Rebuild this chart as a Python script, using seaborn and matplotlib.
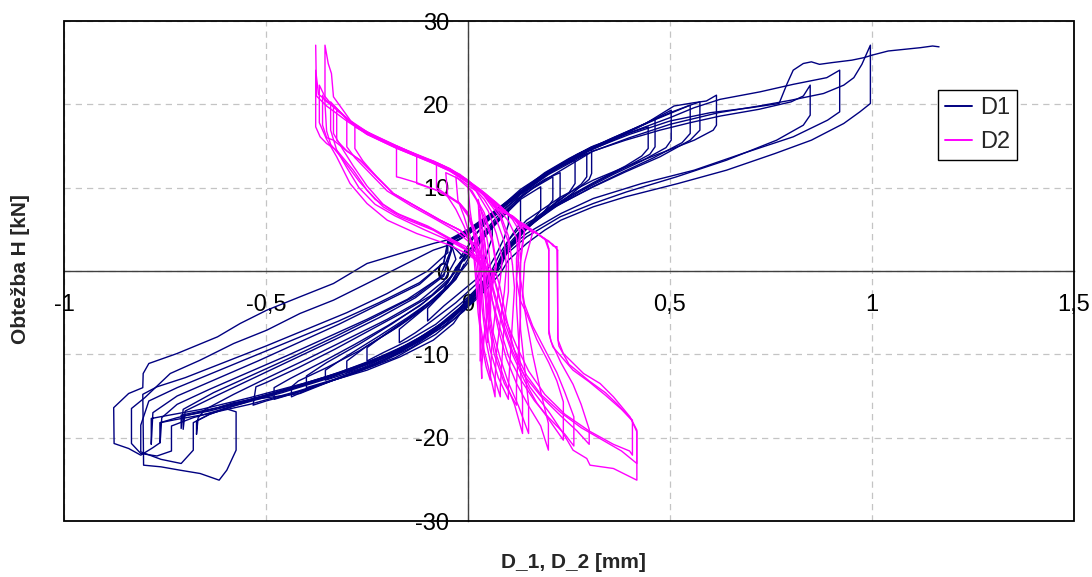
import matplotlib
matplotlib.use("Agg")
import matplotlib.pyplot as plt
import seaborn as sns
import pandas as pd
from matplotlib.lines import Line2D
from matplotlib.patches import Rectangle
from matplotlib.ticker import FixedLocator, FixedFormatter

# ---------------- data: D1 cycles (x = displacement mm, y = load kN) ----------------
d1_c01 = [(-0.02,1.5),(0.01,2.8),(0.04,4.2),(0.06,5.2),(0.06,4.0),(0.05,2.6),(0.04,1.0),(0.02,-1.0),(-0.02,-2.6),(-0.06,-4.2),(-0.10,-6.0),(-0.10,-4.5),(-0.07,-3.0),(-0.04,-1.2),(-0.02,0.5)]
d1_c02 = [(-0.02,0.8),(0.02,3.0),(0.06,5.4),(0.10,7.4),(0.10,5.6),(0.09,4.0),(0.07,2.0),(0.05,0.3),(0.02,-1.6),(-0.03,-3.8),(-0.09,-6.0),(-0.13,-7.4),(-0.17,-8.6),(-0.17,-7.0),(-0.12,-5.0),(-0.07,-3.0),(-0.03,-1.0),(-0.01,0.8)]
d1_c03 = [(-0.01,1.2),(0.03,3.6),(0.08,6.2),(0.13,8.6),(0.13,5.8),(0.11,4.4),(0.08,2.2),(0.06,0.2),(0.03,-1.8),(-0.02,-4.0),(-0.08,-6.4),(-0.15,-8.4),(-0.21,-9.8),(-0.25,-10.8),(-0.25,-9.2),(-0.20,-7.4),(-0.14,-5.4),(-0.08,-3.2),(-0.03,-0.8),(0.0,1.0)]
d1_c04 = [(0.0,1.5),(0.04,4.0),(0.087,6.8),(0.13,8.6),(0.18,10.1),(0.18,7.3),(0.16,6.0),(0.13,4.2),(0.10,2.5),(0.07,0.4),(0.04,-1.5),(0.0,-3.6),(-0.05,-5.8),(-0.12,-8.0),(-0.20,-10.2),(-0.26,-11.4),(-0.30,-12.2),(-0.30,-10.8),(-0.25,-9.0),(-0.17,-6.6),(-0.10,-4.2),(-0.05,-2.0),(-0.02,0.2)]
d1_c05 = [(-0.02,1.0),(0.02,3.4),(0.06,5.6),(0.11,8.0),(0.16,9.9),(0.21,11.3),(0.21,8.5),(0.19,7.2),(0.15,5.4),(0.11,3.4),(0.08,1.2),(0.05,-0.8),(0.01,-3.0),(-0.04,-5.4),(-0.10,-7.6),(-0.18,-9.8),(-0.26,-11.6),(-0.32,-12.6),(-0.353,-13.1),(-0.353,-11.9),(-0.30,-10.2),(-0.22,-7.8),(-0.15,-5.6),(-0.08,-3.2),(-0.03,-0.9),(0.0,1.4)]
d1_c06 = [(0.0,1.4),(0.04,4.2),(0.09,7.0),(0.145,9.6),(0.19,11.0),(0.228,11.8),(0.228,8.9),(0.21,7.8),(0.17,6.1),(0.12,3.9),(0.09,1.8),(0.06,-0.4),(0.02,-2.6),(-0.03,-5.0),(-0.09,-7.4),(-0.17,-9.8),(-0.25,-11.5),(-0.33,-13.0),(-0.40,-14.0),(-0.40,-12.6),(-0.35,-11.0),(-0.27,-8.8),(-0.19,-6.4),(-0.11,-3.8),(-0.05,-1.4),(-0.02,1.0)]
d1_c07 = [(-0.02,1.6),(0.02,4.4),(0.07,7.2),(0.13,9.8),(0.20,12.0),(0.265,13.3),(0.265,10.5),(0.25,9.4),(0.20,7.6),(0.15,5.6),(0.11,3.4),(0.08,1.0),(0.04,-1.4),(-0.01,-4.0),(-0.07,-6.6),(-0.15,-9.2),(-0.24,-11.4),(-0.33,-13.0),(-0.40,-14.3),(-0.437,-15.1),(-0.437,-13.9),(-0.42,-13.2),(-0.35,-11.6),(-0.27,-9.6),(-0.19,-7.2),(-0.12,-4.8),(-0.06,-2.2),(-0.03,0.4)]
d1_c08 = [(-0.03,0.4),(-0.02,1.0),(0.02,3.6),(0.07,6.4),(0.13,9.2),(0.19,11.4),(0.25,13.1),(0.294,14.1),(0.294,11.3),(0.28,10.4),(0.23,8.6),(0.18,6.8),(0.13,4.8),(0.10,2.8),(0.07,0.2),(0.04,-1.8),(0.0,-4.0),(-0.06,-6.6),(-0.14,-9.2),(-0.23,-11.3),(-0.32,-12.9),(-0.41,-14.4),(-0.48,-15.4),(-0.48,-14.0),(-0.44,-12.9),(-0.36,-10.9),(-0.28,-8.8),(-0.20,-6.6),(-0.12,-4.2),(-0.06,-1.8),(-0.02,0.6)]
d1_c09 = [(-0.02,0.6),(0.01,4.0),(0.06,6.6),(0.12,9.2),(0.19,11.8),(0.25,13.5),(0.306,14.9),(0.306,11.7),(0.30,11.0),(0.26,9.4),(0.20,7.2),(0.15,5.3),(0.10,3.0),(0.07,0.4),(0.03,-2.0),(-0.02,-4.6),(-0.09,-7.4),(-0.17,-9.8),(-0.26,-11.8),(-0.35,-13.4),(-0.44,-14.8),(-0.50,-15.6),(-0.532,-16.1),(-0.525,-13.9),(-0.50,-13.4),(-0.42,-11.6),(-0.33,-9.4),(-0.25,-7.3),(-0.17,-5.2),(-0.09,-2.9),(-0.04,-0.6),(-0.01,1.6)]
d1_c10 = [(-0.01,1.6),(-0.05,3.6),(0.0,4.8),(0.04,6.0),(0.087,7.7),(0.145,10.0),(0.186,11.4),(0.25,13.4),(0.31,15.0),(0.39,16.4),(0.446,17.3),(0.446,14.7),(0.43,13.8),(0.39,12.6),(0.31,10.6),(0.23,8.4),(0.17,6.4),(0.12,4.0),(0.09,1.8),(0.07,0.0),(0.03,-2.4),(-0.03,-5.2),(-0.10,-7.8),(-0.20,-10.2),(-0.30,-12.0),(-0.40,-13.6),(-0.50,-15.0),(-0.58,-16.2),(-0.64,-17.2),(-0.672,-18.0),(-0.672,-19.6),(-0.668,-17.6),(-0.65,-16.6),(-0.58,-14.8),(-0.50,-12.9),(-0.40,-10.6),(-0.30,-8.2),(-0.20,-5.8),(-0.12,-3.6),(-0.06,-1.2),(-0.03,1.4),(-0.04,3.0)]
d1_c11 = [(-0.04,3.0),(-0.04,3.2),(0.0,4.4),(0.05,6.2),(0.10,8.2),(0.16,10.4),(0.22,12.4),(0.28,14.2),(0.35,15.6),(0.42,17.2),(0.463,18.3),(0.463,14.9),(0.45,14.0),(0.40,12.7),(0.33,11.0),(0.26,9.2),(0.19,7.0),(0.13,4.6),(0.09,2.2),(0.07,0.2),(0.02,-2.8),(-0.04,-5.6),(-0.12,-8.4),(-0.22,-10.6),(-0.33,-12.5),(-0.44,-14.2),(-0.55,-15.7),(-0.64,-16.8),(-0.705,-17.4),(-0.705,-19.0),(-0.70,-16.8),(-0.62,-14.9),(-0.52,-12.6),(-0.42,-10.3),(-0.32,-8.0),(-0.22,-5.6),(-0.13,-3.2),(-0.06,-0.6),(-0.04,2.6)]
d1_c12 = [(-0.04,2.6),(-0.05,3.4),(0.0,4.6),(0.06,6.6),(0.12,9.0),(0.19,11.4),(0.26,13.6),(0.33,15.3),(0.40,16.8),(0.46,18.2),(0.503,19.3),(0.503,15.7),(0.49,14.8),(0.43,13.2),(0.36,11.6),(0.28,9.6),(0.21,7.6),(0.14,5.0),(0.10,2.6),(0.08,0.4),(0.04,-2.0),(-0.01,-4.8),(-0.08,-7.6),(-0.18,-10.4),(-0.30,-12.6),(-0.42,-14.4),(-0.54,-16.0),(-0.65,-17.2),(-0.72,-17.8),(-0.762,-18.2),(-0.762,-20.6),(-0.758,-17.6),(-0.72,-16.0),(-0.64,-14.2),(-0.55,-12.3),(-0.45,-10.2),(-0.35,-8.0),(-0.25,-5.8),(-0.15,-3.4),(-0.07,-0.8),(-0.04,2.8)]
d1_c13 = [(-0.04,2.8),(-0.04,3.6),(0.0,4.9),(0.05,6.6),(0.11,8.8),(0.18,11.2),(0.25,13.3),(0.32,15.0),(0.40,16.8),(0.47,18.3),(0.52,19.3),(0.55,19.9),(0.55,16.5),(0.53,15.4),(0.46,13.6),(0.38,11.8),(0.30,9.9),(0.22,7.8),(0.15,5.4),(0.10,2.8),(0.07,0.3),(0.03,-2.2),(-0.03,-5.0),(-0.10,-7.8),(-0.20,-10.0),(-0.32,-12.2),(-0.44,-14.0),(-0.56,-15.8),(-0.64,-17.2),(-0.68,-18.2),(-0.68,-21.5),(-0.71,-23.1),(-0.76,-22.6),(-0.81,-21.7),(-0.81,-18.5),(-0.79,-15.6),(-0.72,-14.0),(-0.62,-12.0),(-0.52,-10.0),(-0.42,-8.0),(-0.32,-6.0),(-0.22,-3.8),(-0.12,-1.4),(-0.06,1.0),(-0.05,3.2)]
d1_c14 = [(-0.05,3.2),(-0.05,3.7),(0.0,5.0),(0.06,7.0),(0.13,9.6),(0.20,12.0),(0.27,14.0),(0.35,15.8),(0.43,17.5),(0.50,19.0),(0.55,19.9),(0.574,20.3),(0.574,16.9),(0.55,15.7),(0.475,13.7),(0.39,11.9),(0.31,10.1),(0.23,8.1),(0.145,5.7),(0.095,2.9),(0.07,0.2),(0.02,-2.6),(-0.04,-5.4),(-0.12,-8.2),(-0.22,-10.6),(-0.34,-12.8),(-0.46,-14.6),(-0.58,-16.2),(-0.68,-17.6),(-0.734,-18.6),(-0.734,-21.6),(-0.77,-22.2),(-0.81,-21.9),(-0.833,-20.7),(-0.833,-16.5),(-0.80,-15.2),(-0.737,-12.3),(-0.663,-10.7),(-0.58,-8.7),(-0.498,-7.1),(-0.416,-5.1),(-0.333,-3.5),(-0.25,-1.5),(-0.168,0.5),(-0.086,2.5),(-0.036,3.3)]
d1_c15 = [(-0.036,3.3),(-0.05,3.6),(0.0,4.8),(0.07,7.2),(0.14,9.8),(0.21,12.2),(0.28,14.2),(0.36,16.0),(0.44,17.7),(0.47,18.6),(0.51,19.8),(0.56,20.2),(0.59,20.4),(0.615,21.1),(0.615,17.5),(0.607,16.9),(0.56,15.7),(0.475,14.1),(0.39,12.5),(0.31,10.9),(0.23,8.9),(0.145,6.1),(0.10,3.7),(0.07,0.5),(0.03,-1.6),(-0.02,-4.4),(-0.09,-7.2),(-0.19,-9.8),(-0.30,-12.0),(-0.42,-13.8),(-0.54,-15.4),(-0.65,-16.8),(-0.72,-17.6),(-0.762,-18.2),(-0.762,-20.6),(-0.78,-21.2),(-0.81,-22.1),(-0.84,-21.3),(-0.876,-20.7),(-0.877,-16.4),(-0.84,-14.7),(-0.805,-14.0),(-0.804,-12.3),(-0.79,-11.1),(-0.72,-9.9),(-0.62,-7.9),(-0.564,-6.3),(-0.498,-4.7),(-0.416,-3.1),(-0.333,-1.5),(-0.25,0.9),(-0.168,2.1),(-0.086,3.3),(-0.053,3.7)]
d1_c16 = [(-0.053,3.7),(-0.04,3.4),(0.0,4.4),(0.06,6.4),(0.12,8.6),(0.20,11.2),(0.31,14.4),(0.39,15.7),(0.475,16.9),(0.55,17.8),(0.625,18.6),(0.72,19.4),(0.80,20.3),(0.83,21.0),(0.847,22.3),(0.847,18.7),(0.83,17.5),(0.764,15.7),(0.64,13.3),(0.516,11.3),(0.393,9.5),(0.31,8.1),(0.228,6.5),(0.145,4.1),(0.087,1.7),(0.063,-0.3),(0.02,-2.8),(-0.05,-5.8),(-0.14,-8.6),(-0.25,-11.0),(-0.37,-13.0),(-0.49,-14.8),(-0.60,-16.2),(-0.67,-16.9),(-0.71,-17.3),(-0.71,-18.9),(-0.705,-16.6),(-0.63,-14.6),(-0.53,-12.4),(-0.43,-10.2),(-0.33,-7.9),(-0.23,-5.5),(-0.13,-3.0),(-0.06,-0.4),(-0.04,2.8)]
d1_c17 = [(-0.04,2.8),(-0.05,3.5),(0.0,4.6),(0.06,6.8),(0.13,9.4),(0.20,11.8),(0.30,14.4),(0.40,16.6),(0.50,18.4),(0.56,19.6),(0.624,20.6),(0.723,21.5),(0.805,22.4),(0.888,23.2),(0.92,24.1),(0.92,19.1),(0.89,18.1),(0.805,16.1),(0.68,14.1),(0.56,12.1),(0.43,10.5),(0.31,8.7),(0.23,6.9),(0.145,4.5),(0.087,2.1),(0.07,-0.3),(0.03,-2.8),(-0.012,-4.6),(-0.036,-6.3),(-0.086,-8.3),(-0.168,-10.3),(-0.25,-11.9),(-0.333,-13.1),(-0.416,-14.7),(-0.531,-15.4),(-0.58,-15.8),(-0.614,-16.3),(-0.574,-16.9),(-0.574,-21.5),(-0.597,-23.9),(-0.616,-25.1),(-0.663,-24.3),(-0.713,-23.9),(-0.76,-23.5),(-0.803,-23.3),(-0.804,-18.7),(-0.805,-14.8),(-0.77,-13.9),(-0.70,-12.8),(-0.60,-10.9),(-0.50,-9.0),(-0.40,-7.0),(-0.30,-5.0),(-0.20,-2.7),(-0.10,0.0),(-0.05,2.2)]
d1_c18 = [(-0.05,2.2),(-0.05,3.7),(0.0,4.7),(0.06,6.6),(0.13,9.2),(0.20,11.6),(0.30,14.2),(0.40,16.0),(0.50,17.6),(0.62,19.0),(0.72,19.8),(0.80,20.5),(0.88,21.3),(0.93,22.3),(0.955,23.2),(0.975,24.8),(0.996,27.1),(0.996,20.1),(0.97,19.1),(0.93,17.7),(0.85,15.7),(0.76,14.1),(0.64,12.1),(0.52,10.5),(0.39,8.9),(0.31,7.7),(0.23,6.1),(0.19,4.9),(0.145,3.3),(0.10,1.3),(0.08,-0.3),(0.03,-3.0),(-0.04,-6.0),(-0.14,-9.0),(-0.26,-11.4),(-0.40,-13.4),(-0.54,-15.2),(-0.66,-16.6),(-0.74,-17.3),(-0.784,-17.7),(-0.784,-20.8),(-0.78,-17.0),(-0.72,-15.0),(-0.62,-12.9),(-0.52,-10.8),(-0.42,-8.6),(-0.32,-6.4),(-0.22,-4.0),(-0.12,-1.6),(-0.06,1.0),(-0.05,3.6)]
d1_final = [(-0.05,3.6),(0.0,4.6),(0.06,6.7),(0.13,9.4),(0.20,11.8),(0.30,14.5),(0.40,16.4),(0.50,18.0),(0.60,19.0),(0.70,19.6),(0.77,20.1),(0.79,22.5),(0.805,24.1),(0.83,24.9),(0.85,25.1),(0.87,24.8),(0.90,25.0),(0.95,25.3),(0.98,25.6),(1.0,25.9),(1.04,26.4),(1.08,26.6),(1.12,26.8),(1.15,27.0),(1.166,26.9)]

# ---------------- data: D2 cycles ----------------
d2_c01 = [(0.05,0.0),(0.045,2.0),(0.04,4.0),(0.035,5.2),(0.036,4.0),(0.04,2.0),(0.045,0.0),(0.05,-2.0),(0.052,-4.0),(0.055,-6.0),(0.056,-4.5),(0.055,-2.0),(0.05,0.0)]
d2_c02 = [(0.05,0.5),(0.042,3.0),(0.035,5.4),(0.028,7.4),(0.03,5.6),(0.035,3.5),(0.04,1.0),(0.042,-2.0),(0.045,-5.0),(0.048,-8.6),(0.05,-7.0),(0.055,-4.0),(0.06,-1.0),(0.055,0.5)]
d2_c03 = [(0.055,0.5),(0.05,3.0),(0.04,5.8),(0.025,8.6),(0.028,5.8),(0.032,3.6),(0.035,1.0),(0.032,-2.0),(0.03,-6.0),(0.03,-10.8),(0.035,-9.2),(0.045,-6.0),(0.06,-2.0),(0.07,0.5)]
d2_c04 = [(0.07,0.5),(0.06,3.5),(0.04,6.5),(0.02,8.6),(0.0,10.1),(0.005,7.3),(0.012,5.0),(0.02,2.5),(0.025,0.0),(0.028,-3.0),(0.03,-7.0),(0.032,-10.5),(0.034,-12.9),(0.034,-11.5),(0.04,-8.0),(0.05,-4.0),(0.06,-1.0),(0.07,1.0)]
d2_c05 = [(0.07,1.0),(0.06,4.0),(0.04,7.0),(0.01,9.6),(-0.03,11.3),(-0.025,8.5),(-0.01,6.6),(0.005,4.2),(0.015,1.5),(0.02,-1.5),(0.025,-5.0),(0.035,-9.0),(0.045,-11.5),(0.055,-13.1),(0.056,-11.9),(0.06,-8.0),(0.07,-4.0),(0.08,-1.0),(0.085,1.5)]
d2_c06 = [(0.085,1.5),(0.07,4.5),(0.05,7.2),(0.02,9.6),(-0.02,11.0),(-0.055,11.8),(-0.05,8.9),(-0.03,7.4),(-0.01,5.4),(0.01,3.0),(0.02,0.5),(0.025,-2.5),(0.03,-6.0),(0.04,-9.5),(0.055,-12.5),(0.067,-15.1),(0.067,-13.1),(0.07,-10.0),(0.08,-6.0),(0.09,-2.5),(0.095,0.5)]
d2_c07 = [(0.095,0.5),(0.09,3.5),(0.07,6.2),(0.04,8.6),(0.0,10.7),(-0.04,12.1),(-0.078,13.0),(-0.078,10.0),(-0.045,8.9),(-0.02,8.1),(0.0,6.8),(0.015,4.5),(0.025,2.0),(0.03,-1.0),(0.035,-4.5),(0.045,-8.5),(0.06,-12.0),(0.08,-15.1),(0.08,-13.9),(0.085,-10.0),(0.09,-6.0),(0.10,-2.5),(0.10,0.5)]
d2_c08 = [(0.10,0.5),(0.10,3.4),(0.08,6.4),(0.04,9.0),(0.0,10.9),(-0.045,12.3),(-0.086,13.2),(-0.127,13.8),(-0.127,10.5),(-0.078,9.7),(-0.045,8.8),(-0.02,8.0),(0.0,6.6),(0.02,4.0),(0.03,1.0),(0.035,-2.0),(0.04,-5.5),(0.055,-9.5),(0.075,-12.8),(0.10,-15.4),(0.10,-14.0),(0.105,-10.0),(0.11,-6.0),(0.115,-2.0),(0.11,0.8)]
d2_c09 = [(0.11,0.8),(0.10,4.2),(0.08,6.8),(0.04,9.2),(0.0,10.8),(-0.045,12.2),(-0.086,13.2),(-0.127,14.0),(-0.177,15.0),(-0.177,11.3),(-0.168,11.2),(-0.127,10.6),(-0.078,9.7),(-0.045,8.9),(-0.02,8.1),(0.0,7.0),(0.02,4.6),(0.035,1.5),(0.04,-2.0),(0.05,-6.0),(0.065,-10.0),(0.09,-13.5),(0.12,-16.1),(0.12,-13.5),(0.125,-9.5),(0.13,-5.5),(0.13,-1.5),(0.125,1.0)]
d2_c10 = [(0.125,1.0),(0.12,4.0),(0.10,6.0),(0.06,8.4),(0.02,10.0),(-0.02,11.6),(-0.07,12.8),(-0.127,13.8),(-0.177,14.8),(-0.21,15.6),(-0.25,16.5),(-0.28,17.3),(-0.28,14.7),(-0.26,13.2),(-0.226,11.3),(-0.185,9.3),(-0.127,7.7),(-0.069,6.1),(-0.02,4.9),(0.02,3.0),(0.04,0.5),(0.045,-3.0),(0.055,-6.5),(0.07,-10.0),(0.09,-13.0),(0.115,-16.0),(0.135,-19.5),(0.135,-15.5),(0.13,-12.0),(0.125,-8.0),(0.12,-4.0),(0.12,-1.0),(0.125,1.5)]
d2_c11 = [(0.125,1.5),(0.13,4.6),(0.11,6.2),(0.07,8.2),(0.03,9.8),(-0.01,11.2),(-0.06,12.6),(-0.12,13.8),(-0.18,15.0),(-0.23,16.2),(-0.27,17.2),(-0.30,18.3),(-0.30,14.9),(-0.28,13.6),(-0.24,11.6),(-0.20,9.6),(-0.14,7.8),(-0.08,6.2),(-0.03,4.8),(0.01,3.2),(0.04,0.2),(0.05,-3.5),(0.06,-7.0),(0.08,-10.5),(0.10,-13.4),(0.125,-16.2),(0.15,-19.5),(0.15,-16.0),(0.14,-11.5),(0.13,-7.0),(0.128,-3.0),(0.13,1.0)]
d2_c12 = [(0.13,1.0),(0.14,4.8),(0.12,6.0),(0.08,7.8),(0.04,9.4),(0.0,10.8),(-0.045,12.2),(-0.09,13.2),(-0.14,14.2),(-0.19,15.3),(-0.24,16.4),(-0.28,17.6),(-0.325,19.3),(-0.325,15.7),(-0.30,14.4),(-0.267,13.3),(-0.226,11.3),(-0.185,9.3),(-0.127,7.7),(-0.069,6.1),(-0.02,4.9),(0.02,3.0),(0.05,0.0),(0.06,-3.5),(0.075,-7.0),(0.095,-10.5),(0.12,-13.5),(0.15,-16.2),(0.18,-18.6),(0.199,-21.5),(0.199,-18.3),(0.18,-14.5),(0.16,-10.0),(0.145,-6.0),(0.135,-3.0),(0.14,1.0)]
d2_c13 = [(0.14,1.0),(0.16,4.6),(0.14,5.4),(0.11,6.6),(0.071,7.6),(0.038,9.3),(0.0,10.7),(-0.045,12.1),(-0.086,13.1),(-0.127,13.9),(-0.177,14.9),(-0.21,15.7),(-0.25,16.5),(-0.29,17.8),(-0.333,19.9),(-0.333,16.5),(-0.31,14.6),(-0.284,12.6),(-0.25,10.2),(-0.21,8.0),(-0.168,6.7),(-0.086,5.0),(-0.028,3.4),(0.0,2.5),(0.05,0.0),(0.065,-3.0),(0.085,-6.5),(0.11,-10.0),(0.14,-13.2),(0.17,-15.8),(0.20,-17.8),(0.236,-20.3),(0.236,-15.7),(0.22,-13.2),(0.20,-11.0),(0.17,-8.2),(0.145,-5.1),(0.129,-3.5),(0.12,-1.0),(0.12,1.5)]
d2_c14 = [(0.12,1.5),(0.13,5.2),(0.112,6.4),(0.071,7.5),(0.038,9.2),(0.0,10.6),(-0.045,12.0),(-0.09,13.0),(-0.13,13.8),(-0.18,14.8),(-0.25,16.4),(-0.30,18.2),(-0.34,20.3),(-0.34,16.9),(-0.325,14.5),(-0.30,12.4),(-0.27,10.0),(-0.23,8.0),(-0.18,6.6),(-0.11,5.0),(-0.045,3.6),(0.0,2.4),(0.05,-0.5),(0.06,-3.5),(0.08,-7.0),(0.10,-10.2),(0.13,-13.0),(0.165,-15.6),(0.20,-17.6),(0.24,-19.6),(0.262,-21.0),(0.262,-17.5),(0.24,-14.6),(0.22,-12.2),(0.19,-9.4),(0.16,-6.6),(0.14,-4.0),(0.13,-1.0),(0.13,2.0)]
d2_c15 = [(0.13,2.0),(0.14,4.8),(0.112,6.5),(0.071,7.4),(0.038,9.3),(0.0,10.7),(-0.045,12.1),(-0.086,13.1),(-0.127,13.9),(-0.177,14.9),(-0.21,15.7),(-0.25,16.5),(-0.276,17.3),(-0.333,19.7),(-0.355,20.5),(-0.36,21.1),(-0.36,17.5),(-0.35,16.0),(-0.333,15.7),(-0.30,14.4),(-0.267,13.3),(-0.226,11.3),(-0.185,9.3),(-0.127,7.7),(-0.069,6.1),(-0.02,4.9),(0.02,3.0),(0.06,0.0),(0.07,-2.0),(0.09,-5.5),(0.12,-9.0),(0.15,-12.0),(0.19,-14.8),(0.24,-17.2),(0.30,-19.2),(0.36,-20.8),(0.40,-21.6),(0.407,-22.1),(0.407,-17.9),(0.38,-16.6),(0.34,-14.9),(0.30,-13.3),(0.26,-11.9),(0.21,-9.1),(0.20,-7.5),(0.20,2.7)]
d2_c16 = [(0.20,2.7),(0.194,3.7),(0.17,4.5),(0.137,5.3),(0.112,6.5),(0.071,7.4),(0.038,9.3),(0.0,10.7),(-0.045,12.1),(-0.086,13.1),(-0.127,13.9),(-0.177,14.9),(-0.25,16.5),(-0.276,17.3),(-0.333,19.7),(-0.355,21.0),(-0.368,22.3),(-0.368,17.8),(-0.35,15.8),(-0.325,13.7),(-0.292,10.5),(-0.25,8.1),(-0.20,6.1),(-0.127,4.5),(-0.045,3.1),(0.0,2.0),(0.06,-0.2),(0.075,-2.5),(0.09,-6.0),(0.115,-9.5),(0.145,-12.5),(0.18,-14.8),(0.23,-17.0),(0.28,-18.8),(0.33,-20.2),(0.38,-21.6),(0.418,-23.1),(0.418,-19.1),(0.401,-17.5),(0.36,-15.1),(0.327,-13.5),(0.286,-12.3),(0.236,-9.9),(0.223,-8.3),(0.22,2.9)]
d2_c17 = [(0.22,2.9),(0.211,3.0),(0.20,3.6),(0.185,4.0),(0.16,4.9),(0.14,5.6),(0.12,6.1),(0.079,7.7),(0.038,9.3),(0.0,10.7),(-0.045,12.2),(-0.09,13.2),(-0.13,14.0),(-0.18,15.0),(-0.25,16.6),(-0.28,17.5),(-0.333,19.8),(-0.37,21.2),(-0.377,24.1),(-0.377,17.3),(-0.366,16.1),(-0.35,15.3),(-0.325,14.5),(-0.284,12.1),(-0.25,9.7),(-0.21,7.7),(-0.168,6.5),(-0.086,4.9),(-0.028,3.3),(0.0,2.5),(0.05,0.0),(0.07,-0.3),(0.079,-1.9),(0.096,-5.9),(0.112,-9.1),(0.129,-11.5),(0.153,-13.9),(0.178,-15.5),(0.203,-17.1),(0.236,-19.5),(0.26,-21.5),(0.294,-22.5),(0.302,-23.3),(0.36,-23.7),(0.418,-25.1),(0.418,-19.3),(0.405,-17.9),(0.37,-16.0),(0.34,-14.6),(0.30,-13.2),(0.25,-11.2),(0.225,-9.0),(0.222,-8.0),(0.222,2.5)]
d2_c18 = [(0.222,2.5),(0.21,3.2),(0.19,3.8),(0.17,4.6),(0.14,5.4),(0.11,6.6),(0.07,7.6),(0.038,9.4),(0.0,10.8),(-0.045,12.2),(-0.09,13.1),(-0.13,14.0),(-0.18,15.1),(-0.25,16.7),(-0.29,18.0),(-0.333,20.9),(-0.338,23.7),(-0.346,24.9),(-0.354,27.1),(-0.354,20.1),(-0.35,16.8),(-0.34,15.2),(-0.31,13.4),(-0.27,10.8),(-0.23,8.6),(-0.18,7.0),(-0.10,5.4),(-0.04,3.8),(0.0,2.8),(0.05,0.2),(0.065,-2.5),(0.085,-6.0),(0.11,-9.6),(0.14,-12.6),(0.18,-15.0),(0.23,-17.4),(0.27,-19.2),(0.30,-20.8),(0.30,-19.0),(0.28,-16.0),(0.26,-13.6),(0.23,-11.0),(0.205,-8.4),(0.20,-7.0),(0.20,2.5)]
d2_final = [(0.20,2.5),(0.19,3.9),(0.16,4.8),(0.12,6.0),(0.079,7.6),(0.038,9.2),(0.0,10.6),(-0.045,12.0),(-0.09,13.0),(-0.13,13.8),(-0.18,14.8),(-0.25,16.4),(-0.30,18.0),(-0.35,19.8),(-0.375,21.0),(-0.377,27.1)]

d1_cycles = [d1_c01, d1_c02, d1_c03, d1_c04, d1_c05, d1_c06, d1_c07, d1_c08, d1_c09,
             d1_c10, d1_c11, d1_c12, d1_c13, d1_c14, d1_c15, d1_c16, d1_c17, d1_c18, d1_final]
d2_cycles = [d2_c01, d2_c02, d2_c03, d2_c04, d2_c05, d2_c06, d2_c07, d2_c08, d2_c09,
             d2_c10, d2_c11, d2_c12, d2_c13, d2_c14, d2_c15, d2_c16, d2_c17, d2_c18, d2_final]

series_names = ["D1", "D2"]
series_colors = {"D1": "#000080", "D2": "#FF00FF"}

x_ticks = [-1, -0.5, 0, 0.5, 1, 1.5]
x_tick_labels = ["-1", "-0,5", "0", "0,5", "1", "1,5"]
y_ticks = [-30, -20, -10, 0, 10, 20, 30]
y_tick_labels = ["-30", "-20", "-10", "0", "10", "20", "30"]

# ---------------- build long table ----------------
rows = []
for name, cycles in zip(series_names, [d1_cycles, d2_cycles]):
    for ci, cyc in enumerate(cycles):
        for k, (xv, yv) in enumerate(cyc):
            rows.append({"series": name, "unit": f"{name}_{ci:02d}", "k": k, "x": xv, "y": yv})
df = pd.DataFrame(rows)

# ---------------- plot ----------------
sns.set_theme(style="white")
plt.rcParams["font.family"] = ["Liberation Sans", "DejaVu Sans"]

fig = plt.figure(figsize=(10.92, 5.77), dpi=100)
ax = fig.add_axes([64/1092, (577-521)/577, 1010/1092, 500/577])

sns.lineplot(data=df, x="x", y="y", hue="series", units="unit", estimator=None,
             sort=False, palette=series_colors, hue_order=series_names,
             linewidth=1.0, legend=False, ax=ax)

ax.set_xlim(-1, 1.5)
ax.set_ylim(-30, 30)

ax.xaxis.set_major_locator(FixedLocator(x_ticks))
ax.xaxis.set_major_formatter(FixedFormatter(x_tick_labels))
ax.yaxis.set_major_locator(FixedLocator(y_ticks))
ax.yaxis.set_major_formatter(FixedFormatter(y_tick_labels))

ax.grid(True, linestyle=(0, (5, 4)), color="#c4c4c4", linewidth=0.9)
ax.set_axisbelow(True)

for s in ["top", "right"]:
    ax.spines[s].set_visible(False)
ax.spines["left"].set_position(("data", 0))
ax.spines["bottom"].set_position(("data", 0))
for s in ["left", "bottom"]:
    ax.spines[s].set_color("#404040")
    ax.spines[s].set_linewidth(1.0)

ax.add_patch(Rectangle((0, 0), 1, 1, transform=ax.transAxes, fill=False,
                       edgecolor="black", linewidth=1.3, clip_on=False, zorder=5))

ax.tick_params(axis="x", direction="out", length=6, width=1, color="#404040",
               pad=10.5, labelsize=17, labelcolor="black")
ax.tick_params(axis="y", direction="out", length=6, width=1, color="#404040",
               pad=7.5, labelsize=17, labelcolor="black")

ax.set_xlabel("D_1, D_2 [mm]", fontsize=15, fontweight="bold")
ax.set_ylabel("Obtežba H [kN]", fontsize=15, fontweight="bold")
ax.xaxis.label.set_va("center")
ax.yaxis.label.set_va("center")
ax.xaxis.set_label_coords(0.504, -0.083)
ax.yaxis.set_label_coords(-0.043, 0.503)

handles = [Line2D([], [], color=series_colors[n], linewidth=1.4) for n in series_names]
leg = ax.legend(handles, series_names, loc="upper left", bbox_to_anchor=(0.865, 0.862),
                frameon=True, fancybox=False, shadow=False, edgecolor="black",
                framealpha=1, fontsize=17, handlelength=1.15, handletextpad=0.35,
                labelspacing=0.5, borderpad=0.3, borderaxespad=0)
leg.get_frame().set_linewidth(1.0)

fig.savefig("out.png", dpi=100)
